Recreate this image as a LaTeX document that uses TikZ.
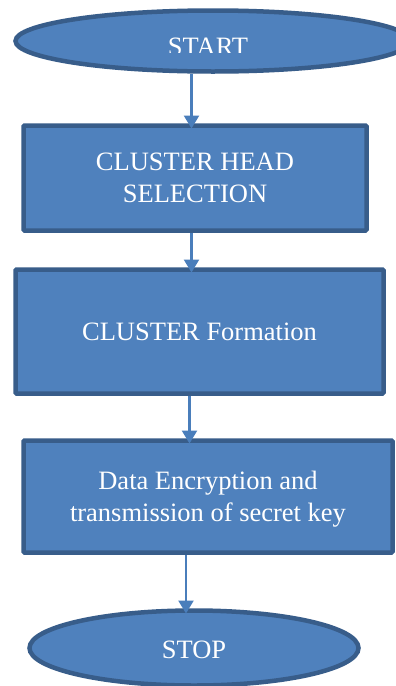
\documentclass[tikz,border=0pt]{standalone}
\usepackage{fontspec}
\setmainfont{Liberation Serif}
\usetikzlibrary{shapes.geometric,arrows.meta}
\definecolor{boxfill}{HTML}{4F81BD}
\definecolor{boxline}{HTML}{385D8A}
\definecolor{flowline}{HTML}{4A7EBB}
\tikzset{
  txt/.style={text=white, align=center, font=\fontsize{26.5}{31.5}\selectfont},
  stepbox/.style={txt, draw=boxline, fill=boxfill, line width=4.5pt, rectangle,
    rounded corners=1pt, inner sep=0pt, outer sep=0pt},
  terminal/.style={txt, draw=boxline, fill=boxfill, line width=4.5pt, ellipse,
    inner sep=0pt, outer sep=0pt},
  flow/.style={draw=flowline, line width=2.5pt, -{Triangle[length=13pt,width=15pt]},
    shorten <=2.5pt, shorten >=-3pt}
}
\begin{document}
\begin{tikzpicture}[x=1pt,y=-1pt]
  \clip (0,0) rectangle (396,686);
  \fill[white] (0,0) rectangle (396,686);

  % start / stop terminals and process steps
  \node[terminal, minimum width=395pt, minimum height=61pt] (start) at (213,41) {};
  \begin{scope}
    \clip (0,0) rectangle (396,52);
    \node[txt, anchor=base] (starttext) at (208,55.5) {START};
  \end{scope}
  \node[stepbox, minimum width=343pt, minimum height=105pt] (head) at (195,178)
    {CLUSTER HEAD\\SELECTION};
  \node[stepbox, minimum width=368pt, minimum height=124pt] (form) at (199.5,331.5)
    {CLUSTER Formation};
  \node[stepbox, minimum width=369pt, minimum height=112pt] (enc) at (208,496.5) {};
  \node[txt, font=\fontsize{26.5}{32}\selectfont] (enctext) at (208,499.5)
    {Data Encryption and\\transmission of secret key};
  \node[terminal, minimum width=329pt, minimum height=75pt] (stop) at (194,648) {};
  \node[txt] (stoptext) at (194,650) {STOP};

  % x positions of the connectors
  \coordinate (a1) at (191.5,0);
  \coordinate (a2) at (191.5,0);
  \coordinate (a3) at (189.5,0);
  \coordinate (a4) at (186,0);

  \draw[flow] (start.south -| a1) -- (head.north -| a1);
  \draw[flow] (head.south -| a2) -- (form.north -| a2);
  \draw[flow] (form.south -| a3) -- (enc.north -| a3);
  \draw[flow] (enc.south -| a4) -- (stop.north -| a4);
\end{tikzpicture}
\end{document}
